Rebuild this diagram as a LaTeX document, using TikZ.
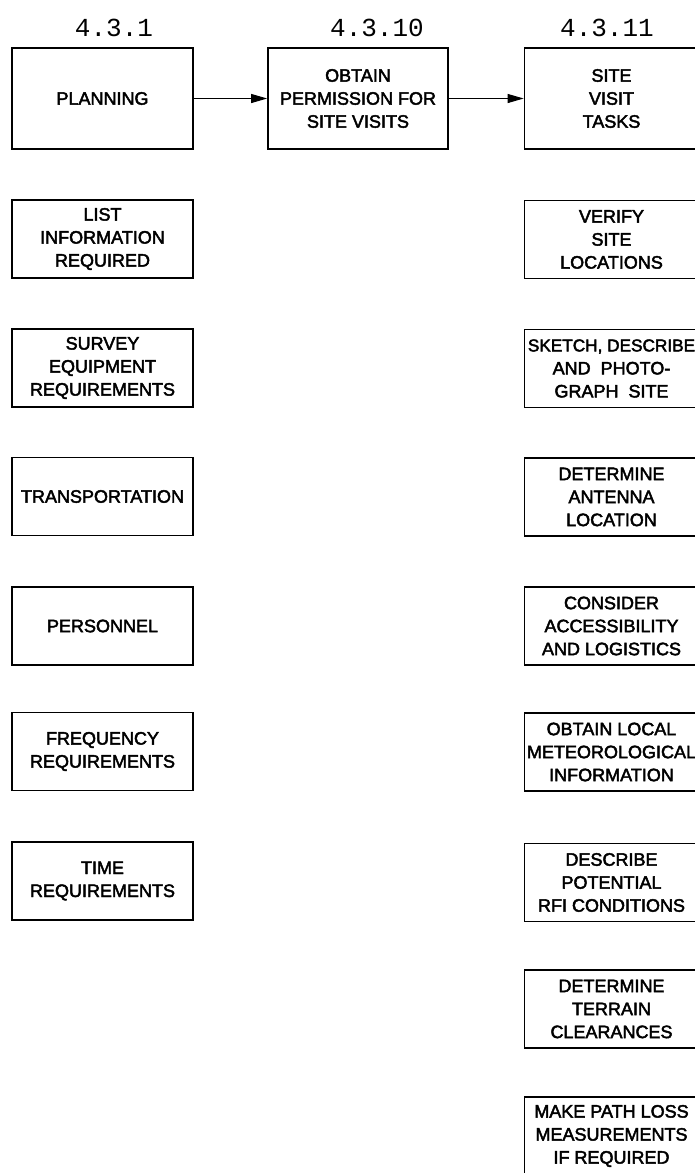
\documentclass[tikz,border=0pt]{standalone}
\usepackage{fontspec}
\usetikzlibrary{arrows.meta}
\newfontfamily\boxfam{Liberation Sans}[FakeBold=2.5]
\newfontfamily\labfam{Liberation Mono}
\newcommand{\boxfont}{\boxfam\fontsize{18}{23}\selectfont}
\newcommand{\labfont}{\labfam\fontsize{26}{30}\selectfont}
\tikzset{
  box/.style={draw, line width=1.7pt, align=center, inner sep=0pt, font=\boxfont, minimum height=78pt},
  lbox/.style={box, minimum width=181pt},
  rbox/.style={box, minimum width=174pt},
  toplbl/.style={font=\labfont, inner sep=0pt},
  flow/.style={line width=1pt, -{Triangle[length=16pt,width=9pt]}}
}
\begin{document}
\begin{tikzpicture}[x=1pt,y=-1pt]
\useasboundingbox (0,0) rectangle (695,1173);
\clip (0,0) rectangle (695,1173);
% header labels
\node[toplbl] (l1) at (114,28) {4.3.1};
\node[toplbl] (l2) at (377,28) {4.3.10};
\node[toplbl] (l3) at (607,28) {4.3.11};
% top row
\node[lbox, minimum height=101pt] (plan) at (102.5,98.5) {PLANNING};
\node[box, minimum width=180pt, minimum height=101pt] (perm) at (358,98.5) {OBTAIN\\PERMISSION FOR\\SITE VISITS};
\node[rbox, minimum height=101pt] (site) at (611.5,98.5) {SITE\\VISIT\\TASKS};
\draw[flow] (plan) -- (perm);
\draw[flow] (perm) -- (site);
% left column
\node[lbox] (list) at (102.5,239) {LIST\\INFORMATION\\REQUIRED};
\node[lbox] (surv) at (102.5,368) {SURVEY\\EQUIPMENT\\REQUIREMENTS};
\node[lbox] (trans) at (102.5,496.5) {TRANSPORTATION};
\node[lbox] (pers) at (102.5,626) {PERSONNEL};
\node[lbox] (freq) at (102.5,751.5) {FREQUENCY\\REQUIREMENTS};
\node[lbox] (time) at (102.5,881) {TIME\\REQUIREMENTS};
% right column
\node[rbox] (ver) at (611.5,239.5) {VERIFY\\SITE\\LOCATIONS};
\node[rbox] (sket) at (611.5,368.5) {{\fontsize{17.2}{23}\selectfont SKETCH, DESCRIBE}\\AND\ \ PHOTO-\\GRAPH\ \ SITE};
\node[rbox] (ant) at (611.5,497) {DETERMINE\\ANTENNA\\LOCATION};
\node[rbox] (cons) at (611.5,626) {CONSIDER\\ACCESSIBILITY\\AND LOGISTICS};
\node[rbox] (met) at (611.5,752) {OBTAIN LOCAL\\METEOROLOGICAL\\INFORMATION};
\node[rbox] (rfi) at (611.5,882.5) {DESCRIBE\\POTENTIAL\\RFI CONDITIONS};
\node[rbox] (terr) at (611.5,1009) {DETERMINE\\TERRAIN\\CLEARANCES};
\node[rbox] (path) at (611.5,1136) {MAKE PATH LOSS\\MEASUREMENTS\\IF REQUIRED};
\end{tikzpicture}
\end{document}
